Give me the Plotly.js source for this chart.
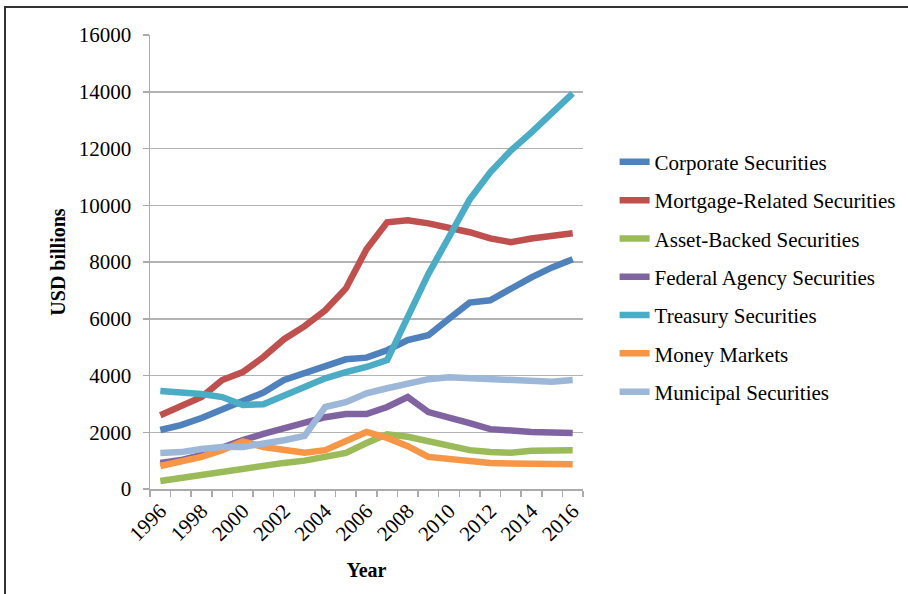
<!DOCTYPE html>
<html>
<head>
<meta charset="utf-8">
<script src="https://cdn.plot.ly/plotly-3.0.1.min.js"></script>
<style>
  html, body { margin: 0; padding: 0; overflow: hidden; background: #fff; }
  #chart { width: 908px; height: 594px; }
  #frame { position: absolute; left: 4px; top: 6px; width: 1200px; height: 1200px;
           border-left: 2px solid #333; border-top: 2px solid #333; pointer-events: none; }
</style>
</head>
<body>
<div id="chart"></div>
<div id="frame"></div>
<script>
const years = [1996,1997,1998,1999,2000,2001,2002,2003,2004,2005,2006,2007,2008,2009,2010,2011,2012,2013,2014,2015,2016];
const tickYears = [1996,1998,2000,2002,2004,2006,2008,2010,2012,2014,2016];

const corporate = [2080,2250,2500,2800,3130,3400,3840,4080,4360,4570,4630,4890,5250,5420,6000,6570,6650,7070,7460,7810,8100];
const mortgage  = [2600,2890,3240,3840,4120,4650,5280,5740,6300,7070,8450,9400,9470,9360,9230,9050,8830,8700,8830,8900,9010];
const assetBacked = [280,390,500,600,730,840,920,1000,1130,1270,1620,1930,1840,1690,1510,1370,1300,1280,1350,1370,1370];
const federal   = [915,1020,1200,1480,1720,1940,2150,2320,2530,2640,2640,2890,3240,2710,2530,2320,2110,2040,2010,1990,1970];
const treasury  = [3450,3420,3350,3240,2960,2990,3310,3600,3900,4120,4300,4540,6050,7580,8880,10200,11160,11930,12570,13230,13940];
const money     = [810,950,1130,1370,1680,1480,1370,1280,1370,1690,2010,1800,1510,1130,1050,950,920,900,900,900,870];
const municipal = [1270,1300,1410,1480,1480,1580,1720,1870,2890,3060,3370,3550,3730,3870,3940,3910,3870,3800,3770,3780,3840];

const seriesNames = ["Corporate Securities","Mortgage-Related Securities","Asset-Backed Securities","Federal Agency Securities","Treasury Securities","Money Markets","Municipal Securities"];
const seriesValues = [corporate, mortgage, assetBacked, federal, treasury, money, municipal];
const seriesColors = ["#4F81BD","#C0504D","#9BBB59","#8064A2","#4BACC6","#F79646","#9DB7D9"];

const traces = seriesNames.map((n, i) => ({
  type: 'scatter', mode: 'lines', name: n, x: years, y: seriesValues[i],
  legendgroup: 'g' + i,
  line: { color: seriesColors[i], width: 6.5 }
}));

const serif = '"Liberation Serif", serif';
const tickFont = { family: serif, size: 21, color: '#000' };
const layout = {
  width: 908, height: 594,
  margin: { l: 150, r: 325, t: 35, b: 105, autoexpand: false },
  paper_bgcolor: '#fff', plot_bgcolor: '#fff',
  font: { family: serif, size: 21, color: '#000' },
  showlegend: true,
  legend: { x: 1.073, xanchor: 'left', y: 0.765, yanchor: 'top',
            font: { family: serif, size: 21, color: '#000' },
            traceorder: 'grouped', tracegroupgap: 8, bgcolor: 'rgba(0,0,0,0)' },
  xaxis: {
    type: 'linear', range: [1995.5, 2016.5], automargin: false,
    tickmode: 'array', tickvals: tickYears, ticktext: tickYears.map(String),
    ticks: '', tickangle: -45, tickfont: tickFont,
    showline: true, linecolor: '#ababab', linewidth: 1.5,
    showgrid: false, zeroline: false,
    minor: { tickmode: 'linear', tick0: 1995.5, dtick: 1, ticks: 'outside', ticklen: 6, tickcolor: '#ababab', tickwidth: 1.5, showgrid: false },
    title: { text: '<b>Year</b>', font: { family: serif, size: 20 }, standoff: 18 }
  },
  yaxis: {
    range: [0, 16000], dtick: 2000, tick0: 0, tickformat: 'd', tickfont: tickFont,
    automargin: false, ticklabelstandoff: 7,
    ticks: 'outside', ticklen: 6, tickcolor: '#ababab', tickwidth: 1.5,
    showline: true, linecolor: '#ababab', linewidth: 1.5,
    showgrid: true, gridcolor: '#b3b3b3', gridwidth: 1.5, zeroline: false,
    title: { text: '<b>USD billions</b>', font: { family: serif, size: 20 }, standoff: 8 }
  }
};

Plotly.newPlot('chart', traces, layout, { displayModeBar: false, staticPlot: true });
</script>
</body>
</html>
